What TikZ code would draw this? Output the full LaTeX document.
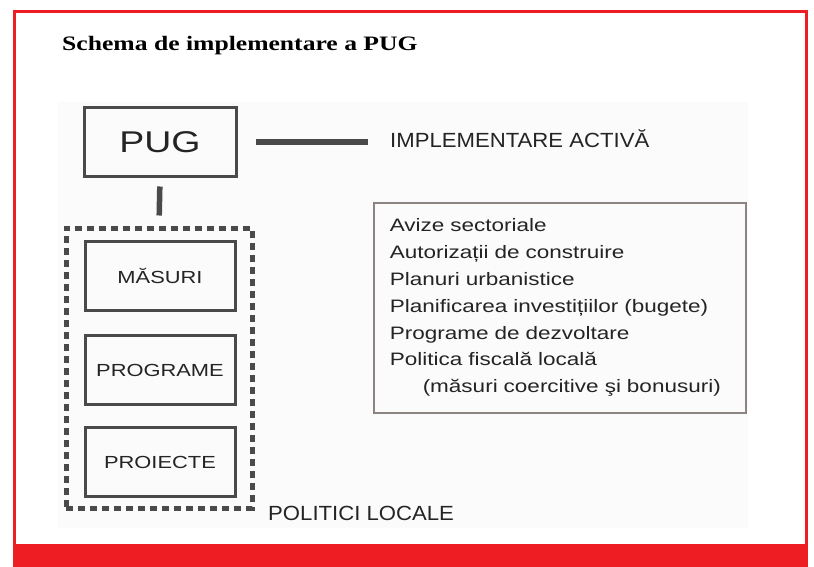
\documentclass[tikz,border=0pt]{standalone}
\usepackage{fontspec}
\setmainfont{Liberation Serif}
\newfontfamily\lsans[FakeStretch=1.25]{Liberation Sans}
\newfontfamily\lsanswide[FakeStretch=1.08]{Liberation Sans}
\newfontfamily\lserif[FakeStretch=1.25]{Liberation Serif}
\usetikzlibrary{positioning}
\definecolor{framered}{HTML}{EE1D24}
\definecolor{boxgray}{HTML}{4A4A4A}
\definecolor{textgray}{HTML}{242424}
\definecolor{listgray}{HTML}{8C8480}

\begin{document}
\begin{tikzpicture}[x=1pt, y=-1pt,
  every node/.style = {text=textgray, font=\lsans},
  planbox/.style = {shape=rectangle, draw=boxgray, line width=3pt,
    minimum width=150pt, minimum height=69pt, inner sep=0pt,
    font=\lsans\fontsize{17.5}{20}\selectfont},
  caption/.style = {inner sep=0pt, font=\lsanswide\fontsize{20.5}{24}\selectfont},
  link/.style = {draw=boxgray, line width=5.5pt}
  ]
  \useasboundingbox (0,0) rectangle (814,567);
  % frame and panel
  \fill[black!1.5] (58,102) rectangle (748,528);
  \draw[framered, line width=3pt] (14.5,567) -- (14.5,11.5) -- (806.5,11.5) -- (806.5,567);
  \fill[framered] (13,544) rectangle (808,567);

  \node[anchor=base west, inner sep=0pt, text=black,
    font=\lserif\bfseries\fontsize{20.5}{24}\selectfont] (titlu) at (62,51) {Schema de implementare a PUG};

  % left column
  \node[planbox, minimum width=152pt, minimum height=68pt,
    font=\lsans\fontsize{30}{33}\selectfont] (pug) at (160,142) {PUG};
  \node[planbox] (masuri) at (160,276) {MĂSURI};
  \node[planbox, below=22pt of masuri] (programe) {PROGRAME};
  \node[planbox, below=20pt of programe] (proiecte) {PROIECTE};
  \node[shape=rectangle, draw=boxgray, line width=5pt, dash pattern=on 7pt off 5pt,
    minimum width=186pt, minimum height=280pt] (politici) at (159,368) {};

  % captions
  \node[caption, anchor=base west] (activ) at (390,148) {IMPLEMENTARE ACTIVĂ};
  \node[caption, anchor=base west] (local) at (268,520) {POLITICI LOCALE};

  % list of instruments
  \node[draw=listgray, line width=1.5pt, anchor=north west, text width=340pt,
    inner xsep=16pt, minimum height=210pt, align=left,
    font=\lsans\fontsize{18}{26.8}\selectfont] (lista) at (373,202) {%
    Avize sectoriale\\
    Autorizații de construire\\
    Planuri urbanistice\\
    Planificarea investițiilor (bugete)\\
    Programe de dezvoltare\\
    Politica fiscală locală\\
    \hspace*{33pt}(măsuri coercitive şi bonusuri)};

  % connectors
  \draw[link, shorten <=18pt, shorten >=22pt] (pug.east) -- (activ.west |- pug.east);
  \draw[link, shorten <=9pt, shorten >=10pt] (pug.south) -- (politici.north);
\end{tikzpicture}
\end{document}
